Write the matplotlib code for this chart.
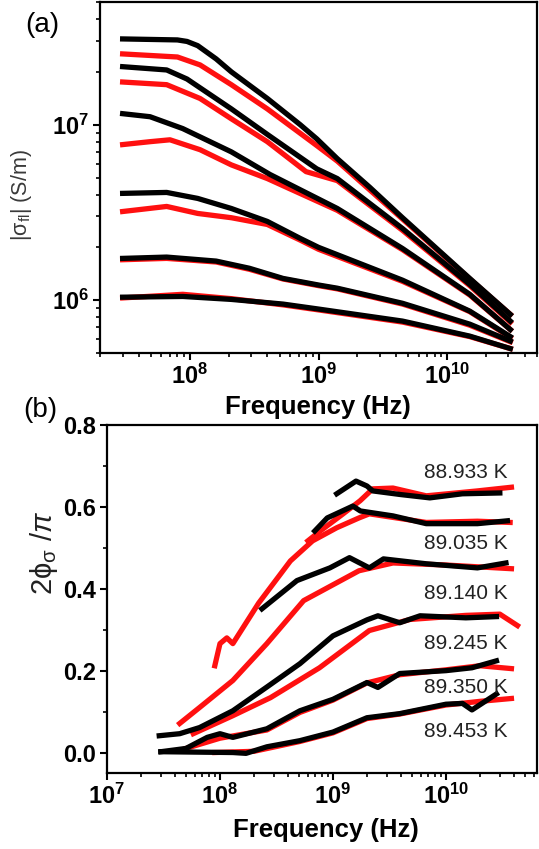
import numpy as np
import matplotlib
matplotlib.use("Agg")
import matplotlib.pyplot as plt
from matplotlib.ticker import FuncFormatter, LogLocator, MultipleLocator, NullFormatter

plt.rcParams['font.family'] = ['Liberation Sans', 'DejaVu Sans']
plt.rcParams['mathtext.fontset'] = 'custom'
plt.rcParams['mathtext.rm'] = 'Liberation Sans'
plt.rcParams['mathtext.it'] = 'Liberation Sans:italic'
plt.rcParams['mathtext.bf'] = 'Liberation Sans:bold'

# ---- panel (a): |sigma_fl| (S/m) vs frequency (Hz), black/red pairs ----
a_blk1_f = [3.0e7, 8.0e7, 9.5e7, 1.15e8, 1.6e8, 2.1e8, 4.0e8, 7.2e8, 9.7e8, 1.4e9, 2.5e9, 4.5e9, 1.5e10, 3.1e10]
a_blk1_s = [3.08e7, 3.04e7, 2.98e7, 2.82e7, 2.37e7, 2.0e7, 1.41e7, 1.0e7, 8.3e6, 6.4e6, 4.4e6, 2.95e6, 1.33e6, 8.3e5]
a_red1_f = [3.0e7, 8.0e7, 1.2e8, 2.1e8, 4.0e8, 9.7e8, 1.4e9, 4.5e9, 1.5e10, 3.1e10]
a_red1_s = [2.53e7, 2.43e7, 2.19e7, 1.69e7, 1.23e7, 7.6e6, 6.2e6, 2.9e6, 1.32e6, 8.3e5]

a_blk2_f = [3.0e7, 6.6e7, 9.5e7, 2.1e8, 4.0e8, 9.7e8, 1.4e9, 4.5e9, 1.5e10, 3.1e10]
a_blk2_s = [2.14e7, 2.05e7, 1.82e7, 1.23e7, 8.8e6, 5.6e6, 4.93e6, 2.56e6, 1.23e6, 7.6e5]
a_red2_f = [3.0e7, 6.6e7, 1.2e8, 2.1e8, 4.0e8, 8.0e8, 1.4e9, 4.5e9, 1.5e10, 3.1e10]
a_red2_s = [1.75e7, 1.69e7, 1.41e7, 1.08e7, 8.0e6, 5.4e6, 4.8e6, 2.5e6, 1.21e6, 7.5e5]

a_blk3_f = [3.0e7, 4.9e7, 8.8e7, 2.1e8, 4.2e8, 1.4e9, 4.5e9, 1.5e10, 3.1e10]
a_blk3_s = [1.155e7, 1.11e7, 9.5e6, 7.0e6, 5.2e6, 3.33e6, 1.97e6, 1.08e6, 6.8e5]
a_red3_f = [3.0e7, 4.9e7, 7.0e7, 1.2e8, 2.1e8, 4.0e8, 1.4e9, 4.5e9, 1.5e10, 3.1e10]
a_red3_s = [7.7e6, 8.0e6, 8.2e6, 7.2e6, 5.9e6, 4.93e6, 3.25e6, 1.94e6, 1.07e6, 6.8e5]

a_blk4_f = [3.0e7, 6.6e7, 1.15e8, 2.1e8, 4.0e8, 7.2e8, 1.0e9, 4.5e9, 1.5e10, 3.1e10]
a_blk4_s = [4.06e6, 4.11e6, 3.80e6, 3.33e6, 2.81e6, 2.25e6, 2.0e6, 1.3e6, 8.66e5, 6.2e5]
a_red4_f = [3.0e7, 6.6e7, 1.15e8, 2.1e8, 4.0e8, 7.2e8, 1.0e9, 4.5e9, 1.5e10, 3.1e10]
a_red4_s = [3.2e6, 3.42e6, 3.12e6, 2.95e6, 2.7e6, 2.2e6, 1.95e6, 1.28e6, 8.6e5, 6.15e5]

a_blk5_f = [3.0e7, 6.6e7, 1.6e8, 2.9e8, 5.3e8, 1.0e9, 1.4e9, 4.5e9, 1.5e10, 3.1e10]
a_blk5_s = [1.73e6, 1.76e6, 1.67e6, 1.52e6, 1.33e6, 1.22e6, 1.17e6, 9.6e5, 7.3e5, 5.85e5]
a_red5_f = [3.0e7, 6.6e7, 1.6e8, 2.9e8, 5.3e8, 1.0e9, 1.4e9, 4.5e9, 1.5e10, 3.1e10]
a_red5_s = [1.70e6, 1.73e6, 1.65e6, 1.50e6, 1.32e6, 1.21e6, 1.16e6, 9.5e5, 7.2e5, 5.8e5]

a_blk6_f = [3.0e7, 8.8e7, 2.1e8, 5.3e8, 1.0e9, 4.5e9, 1.5e10, 3.1e10]
a_blk6_s = [1.04e6, 1.05e6, 1.01e6, 9.5e5, 8.9e5, 7.6e5, 6.24e5, 5.3e5]
a_red6_f = [3.0e7, 8.8e7, 2.1e8, 5.3e8, 1.0e9, 4.5e9, 1.5e10, 3.1e10]
a_red6_s = [1.03e6, 1.08e6, 1.02e6, 9.4e5, 8.8e5, 7.5e5, 6.2e5, 5.3e5]

# ---- panel (b): 2 phi_sigma / pi vs frequency ----
temps = ['88.933 K', '89.035 K', '89.140 K', '89.245 K', '89.350 K', '89.453 K']

b_blk1_f = [1.08e9, 1.6e9, 2.0e9, 2.25e9, 4.0e9, 7.2e9, 1.4e10, 3.0e10]
b_blk1_v = [0.632, 0.663, 0.651, 0.639, 0.630, 0.622, 0.632, 0.634]
b_red1_f = [6.0e8, 7.7e8, 1.23e9, 1.74e9, 2.25e9, 3.4e9, 6.7e9, 1.9e10, 3.8e10]
b_red1_v = [0.517, 0.541, 0.583, 0.615, 0.644, 0.646, 0.627, 0.639, 0.648]

b_blk2_f = [6.9e8, 8.9e8, 1.5e9, 1.75e9, 3.4e9, 6.7e9, 1.9e10, 3.5e10]
b_blk2_v = [0.541, 0.573, 0.602, 0.590, 0.578, 0.559, 0.559, 0.566]
b_red2_f = [9.0e7, 1.0e8, 1.15e8, 1.3e8, 2.2e8, 4.2e8, 6.6e8, 1.08e9, 1.7e9, 2.1e9, 6.7e9, 1.9e10, 3.7e10]
b_red2_v = [0.212, 0.266, 0.28, 0.266, 0.365, 0.468, 0.517, 0.549, 0.573, 0.583, 0.562, 0.565, 0.562]

b_blk3_f = [2.35e8, 4.8e8, 9.4e8, 1.4e9, 2.1e9, 2.8e9, 6.7e9, 1.9e10, 3.4e10]
b_blk3_v = [0.351, 0.42, 0.451, 0.476, 0.451, 0.473, 0.461, 0.451, 0.463]
b_red3_f = [4.4e7, 6.6e7, 1.3e8, 2.6e8, 5.5e8, 1.7e9, 3.4e9, 1.0e10, 3.8e10]
b_red3_v = [0.071, 0.110, 0.176, 0.266, 0.371, 0.444, 0.463, 0.458, 0.449]

b_blk4_f = [2.9e7, 4.4e7, 6.6e7, 1.3e8, 2.6e8, 5.1e8, 1.0e9, 2.0e9, 2.5e9, 3.9e9, 5.9e9, 1.5e10, 2.8e10]
b_blk4_v = [0.041, 0.046, 0.061, 0.102, 0.16, 0.217, 0.285, 0.324, 0.334, 0.317, 0.334, 0.329, 0.332]
b_red4_f = [5.8e7, 1.3e8, 2.8e8, 7.6e8, 2.1e9, 4.8e9, 1.5e10, 3.0e10, 4.3e10]
b_red4_v = [0.046, 0.09, 0.134, 0.207, 0.298, 0.325, 0.335, 0.338, 0.31]

b_blk5_f = [3.0e7, 5.0e7, 7.7e7, 1.0e8, 1.3e8, 2.6e8, 5.1e8, 1.0e9, 2.0e9, 2.5e9, 3.9e9, 1.0e10, 1.7e10, 2.8e10]
b_blk5_v = [0.002, 0.01, 0.037, 0.046, 0.037, 0.058, 0.102, 0.13, 0.171, 0.159, 0.193, 0.2, 0.207, 0.224]
b_red5_f = [5.0e7, 1.0e8, 2.6e8, 5.1e8, 1.0e9, 2.0e9, 3.9e9, 1.0e10, 2.0e10, 3.8e10]
b_red5_v = [0.01, 0.035, 0.055, 0.098, 0.128, 0.17, 0.19, 0.202, 0.212, 0.205]

b_blk6_f = [3.0e7, 1.3e8, 1.7e8, 2.6e8, 5.1e8, 1.0e9, 2.0e9, 3.9e9, 1.0e10, 1.4e10, 1.7e10, 2.8e10]
b_blk6_v = [0.002, 0.0, -0.002, 0.014, 0.029, 0.05, 0.085, 0.095, 0.118, 0.12, 0.104, 0.143]
b_red6_f = [9.0e7, 2.0e8, 5.1e8, 1.0e9, 2.0e9, 3.9e9, 1.0e10, 2.0e10, 3.8e10]
b_red6_v = [0.0, 0.003, 0.027, 0.048, 0.083, 0.094, 0.116, 0.125, 0.132]

a_red = [(a_red1_f, a_red1_s), (a_red2_f, a_red2_s), (a_red3_f, a_red3_s),
         (a_red4_f, a_red4_s), (a_red5_f, a_red5_s), (a_red6_f, a_red6_s)]
a_blk = [(a_blk1_f, a_blk1_s), (a_blk2_f, a_blk2_s), (a_blk3_f, a_blk3_s),
         (a_blk4_f, a_blk4_s), (a_blk5_f, a_blk5_s), (a_blk6_f, a_blk6_s)]
b_red = [(b_red1_f, b_red1_v), (b_red2_f, b_red2_v), (b_red3_f, b_red3_v),
         (b_red4_f, b_red4_v), (b_red5_f, b_red5_v), (b_red6_f, b_red6_v)]
b_blk = [(b_blk1_f, b_blk1_v), (b_blk2_f, b_blk2_v), (b_blk3_f, b_blk3_v),
         (b_blk4_f, b_blk4_v), (b_blk5_f, b_blk5_v), (b_blk6_f, b_blk6_v)]
label_y = [0.683, 0.51, 0.388, 0.266, 0.159, 0.051]

RED = '#ff1010'
LW = 3.8


def log_fmt(x, pos):
    return r'$\mathbf{10^{%d}}$' % int(round(np.log10(x)))


def style_axes(ax):
    for sp in ax.spines.values():
        sp.set_linewidth(1.6)
    ax.tick_params(which='major', direction='out', length=5, width=1.5,
                   labelsize=17, top=False, right=False, pad=3)
    ax.tick_params(which='minor', direction='out', length=3, width=1.2,
                   top=False, right=False)


W, H = 539, 849
fig = plt.figure(figsize=(W / 100, H / 100), dpi=100)
ax_a = fig.add_axes([100 / W, 1 - 353 / H, 437 / W, 351 / H])
ax_b = fig.add_axes([107 / W, 1 - 773 / H, 430 / W, 348 / H])

# panel (a)
for f, s in a_red:
    ax_a.plot(f, s, color=RED, lw=LW, solid_joinstyle='round')
for f, s in a_blk:
    ax_a.plot(f, s, color='black', lw=LW, solid_joinstyle='round')
ax_a.set_xscale('log')
ax_a.set_yscale('log')
ax_a.set_xlim(2e7, 5e10)
ax_a.set_ylim(5e5, 5e7)
style_axes(ax_a)
for axis in (ax_a.xaxis, ax_a.yaxis):
    axis.set_major_locator(LogLocator(base=10, numticks=10))
    axis.set_minor_locator(LogLocator(base=10, subs=np.arange(2, 10), numticks=20))
    axis.set_major_formatter(FuncFormatter(log_fmt))
    axis.set_minor_formatter(NullFormatter())

# panel (b)
for f, v in b_red:
    ax_b.plot(f, v, color=RED, lw=LW, solid_joinstyle='round')
for f, v in b_blk:
    ax_b.plot(f, v, color='black', lw=LW, solid_joinstyle='round')
ax_b.set_xscale('log')
ax_b.set_xlim(1e7, 6.4e10)
ax_b.set_ylim(-0.05, 0.8)
style_axes(ax_b)
ax_b.xaxis.set_major_locator(LogLocator(base=10, numticks=10))
ax_b.xaxis.set_minor_locator(LogLocator(base=10, subs=np.arange(2, 10), numticks=20))
ax_b.xaxis.set_major_formatter(FuncFormatter(log_fmt))
ax_b.xaxis.set_minor_formatter(NullFormatter())
ax_b.yaxis.set_major_locator(MultipleLocator(0.2))
ax_b.yaxis.set_minor_locator(MultipleLocator(0.1))
ax_b.yaxis.set_major_formatter(FuncFormatter(lambda v, p: '%.1f' % v))
for lab in ax_b.get_yticklabels():
    lab.set_fontweight('bold')

for t, y in zip(temps, label_y):
    ax_b.text(3.54e10, y, t, ha='right', va='center', fontsize=15, color='#222222')

# labels
fig.text(318 / W, 1 - 407 / H, 'Frequency (Hz)', ha='center', va='center',
         fontsize=18.5, fontweight='bold')
fig.text(326 / W, 1 - 830 / H, 'Frequency (Hz)', ha='center', va='center',
         fontsize=18.5, fontweight='bold')
fig.text(22 / W, 1 - 195 / H, r'$|\mathrm{\sigma_{fl}}|$ (S/m)', rotation=90, ha='center',
         va='center', fontsize=15.5, color='#3a3a3a')
fig.text(44 / W, 1 - 553 / H, r'$\mathrm{2\phi_{\sigma}\ /}\pi$', rotation=90, ha='center',
         va='center', fontsize=21, color='#222222')
fig.text(42 / W, 1 - 25 / H, '(a)', ha='center', va='center', fontsize=20)
fig.text(40 / W, 1 - 410 / H, '(b)', ha='center', va='center', fontsize=20)

fig.savefig('out.png', dpi=100)
